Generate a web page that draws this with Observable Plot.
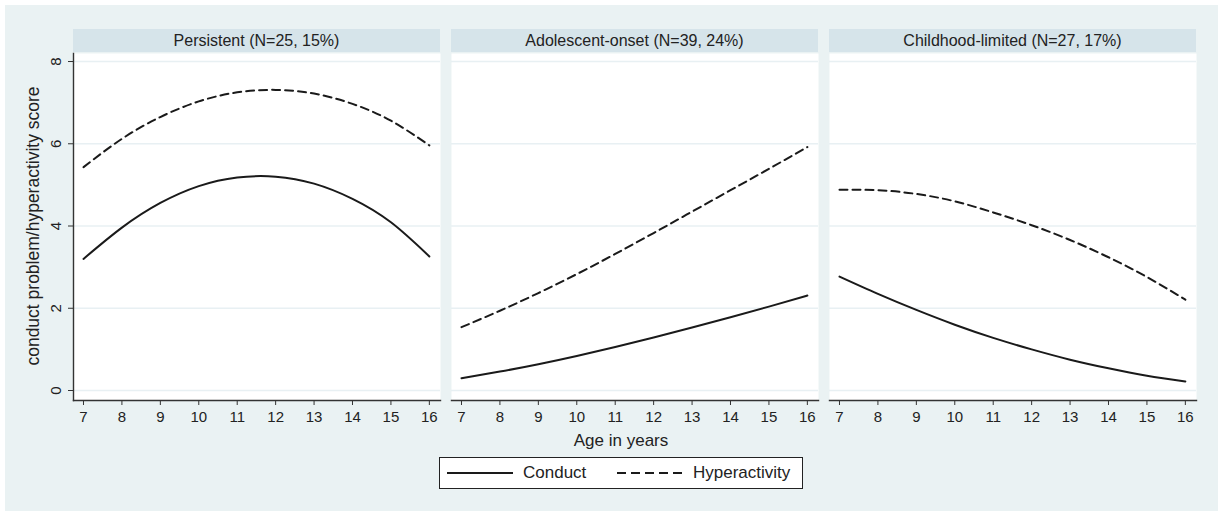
<!DOCTYPE html>
<html><head><meta charset="utf-8">
<script src="https://cdn.jsdelivr.net/npm/d3@7"></script>
<script src="https://cdn.jsdelivr.net/npm/@observablehq/plot@0.6"></script>
<style>
body{margin:0;background:#fff;font-family:"Liberation Sans",Arial,Helvetica,sans-serif;color:#222;}
#bg{position:absolute;left:5px;top:5px;width:1213px;height:506px;background:#EAF2F3;}
.hdr{position:absolute;top:29px;height:23px;background:#D6E4EA;color:#222;font-size:16px;line-height:23px;text-align:center;white-space:nowrap;}
.pan{position:absolute;top:53px;}
.pan svg{overflow:visible;}
#ytitle{position:absolute;left:-167px;top:216px;width:400px;height:20px;line-height:20px;text-align:center;font-size:17.5px;transform:rotate(-90deg);transform-origin:50% 50%;white-space:nowrap;}
#xtitle{position:absolute;left:521px;top:430px;width:200px;text-align:center;font-size:17px;line-height:22px;}
#legend{position:absolute;left:439px;top:457px;width:364px;height:32px;box-sizing:border-box;background:#fff;border:1px solid #222;}
#legend span{position:absolute;top:0;line-height:30px;font-size:17px;}
#legend svg{position:absolute;left:0;top:0;}
</style></head><body>
<div id="bg"></div>
<div id="root"></div>
<div id="ytitle">conduct problem/hyperactivity score</div>
<div id="xtitle">Age in years</div>
<div id="legend">
  <svg width="362" height="30"><line x1="7" y1="15" x2="73" y2="15" stroke="#1a1a1a" stroke-width="2"/><line x1="177" y1="15" x2="244" y2="15" stroke="#1a1a1a" stroke-width="2" stroke-dasharray="9,5"/></svg>
  <span style="left:83px">Conduct</span>
  <span style="left:253px">Hyperactivity</span>
</div>
<script>
const ages = [7, 8, 9, 10, 11, 12, 13, 14, 15, 16];
const groups = ["Persistent (N=25, 15%)", "Adolescent-onset (N=39, 24%)", "Childhood-limited (N=27, 17%)"];
const measures = ["Conduct", "Hyperactivity"];
const yTicks = [0, 2, 4, 6, 8];

const persistentConduct = [3.20, 3.96, 4.56, 4.97, 5.18, 5.20, 5.03, 4.66, 4.09, 3.26];
const persistentHyper   = [5.43, 6.12, 6.65, 7.03, 7.25, 7.31, 7.22, 6.97, 6.56, 5.96];
const adolescentConduct = [0.30, 0.46, 0.64, 0.84, 1.06, 1.29, 1.53, 1.78, 2.04, 2.31];
const adolescentHyper   = [1.54, 1.94, 2.37, 2.83, 3.32, 3.83, 4.35, 4.87, 5.39, 5.92];
const childhoodConduct  = [2.77, 2.35, 1.96, 1.60, 1.28, 1.00, 0.75, 0.54, 0.36, 0.22];
const childhoodHyper    = [4.88, 4.87, 4.78, 4.60, 4.33, 4.02, 3.66, 3.24, 2.76, 2.21];

const series = [
  [persistentConduct, persistentHyper],
  [adolescentConduct, adolescentHyper],
  [childhoodConduct, childhoodHyper]
];

const panelLeft = [73, 451, 829];
const panelW = 367, panelH = 347;
const root = document.getElementById("root");

groups.forEach((g, i) => {
  const hdr = document.createElement("div");
  hdr.className = "hdr";
  hdr.style.left = panelLeft[i] + "px";
  hdr.style.width = panelW + "px";
  hdr.textContent = g;
  root.appendChild(hdr);

  const rows = [];
  measures.forEach((m, j) => ages.forEach((a, k) => rows.push({age: a, value: series[i][j][k], measure: m})));

  const mL = i === 0 ? 73 : 10, mR = 12, mB = 30;
  const marks = [
    Plot.frame({fill: "white", stroke: null}),
    Plot.gridY(yTicks, {stroke: "#E8F0F3", strokeOpacity: 1, strokeWidth: 1.5}),
    Plot.frame({anchor: "bottom", stroke: "#333", strokeWidth: 1.4}),
    Plot.axisX(ages, {tickSize: 5, tickPadding: 6, label: null, stroke: "#333", fontSize: 15}),
    Plot.line(rows.filter(d => d.measure === "Conduct"), {x: "age", y: "value", stroke: "#1a1a1a", strokeWidth: 2, curve: "natural"}),
    Plot.line(rows.filter(d => d.measure === "Hyperactivity"), {x: "age", y: "value", stroke: "#1a1a1a", strokeWidth: 2, strokeDasharray: "8,5", curve: "natural"})
  ];
  if (i === 0) {
    marks.push(Plot.frame({anchor: "left", stroke: "#333", strokeWidth: 1.4}));
    marks.push(Plot.axisY(yTicks, {tickSize: 5, tickPadding: 8, tickRotate: -90, label: null, stroke: "#333", fontSize: 15}));
  }
  const chart = Plot.plot({
    width: mL + panelW + mR,
    height: panelH + mB,
    marginLeft: mL, marginRight: mR, marginTop: 0, marginBottom: mB,
    x: {domain: [6.74, 16.29]},
    y: {domain: [-0.243, 8.195], axis: i === 0 ? undefined : null},
    style: {fontFamily: '"Liberation Sans", Arial, Helvetica, sans-serif', fontSize: "15px", color: "#222", background: "transparent", overflow: "visible"},
    marks
  });
  const wrap = document.createElement("div");
  wrap.className = "pan";
  wrap.style.left = (panelLeft[i] - mL) + "px";
  wrap.appendChild(chart);
  root.appendChild(wrap);
});
</script>
</body></html>
